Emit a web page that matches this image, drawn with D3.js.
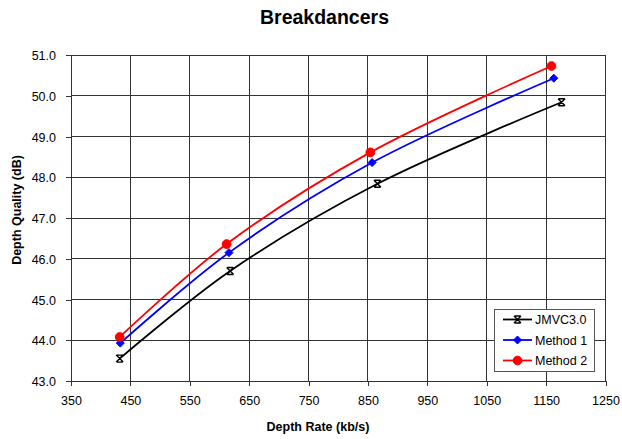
<!DOCTYPE html>
<html>
<head>
<meta charset="utf-8">
<script src="https://cdn.jsdelivr.net/npm/d3@7"></script>
<style>
  body { margin: 0; background: #fff; }
  text { font-family: "Liberation Sans", Arial, sans-serif; fill: #000; }
</style>
</head>
<body>
<svg id="chart" width="622" height="439"></svg>
<script>
const seriesNames = ["JMVC3.0", "Method 1", "Method 2"];
const rateJMVC = [432, 618, 866, 1176];
const qualJMVC = [43.55, 45.70, 47.84, 49.84];
const rateM1 = [433, 616, 857, 1163];
const qualM1 = [43.93, 46.15, 48.36, 50.43];
const rateM2 = [432, 612, 854, 1159];
const qualM2 = [44.08, 46.36, 48.61, 50.73];
const xTicks = [350, 450, 550, 650, 750, 850, 950, 1050, 1150, 1250];
const yTicks = [43, 44, 45, 46, 47, 48, 49, 50, 51];
const colors = ["#000000", "#0000ff", "#ff0000"];

const series = [
  { name: seriesNames[0], rate: rateJMVC, qual: qualJMVC, color: colors[0], marker: "x" },
  { name: seriesNames[1], rate: rateM1, qual: qualM1, color: colors[1], marker: "diamond" },
  { name: seriesNames[2], rate: rateM2, qual: qualM2, color: colors[2], marker: "circle" }
];

const svg = d3.select("#chart");
const L = 71, R = 605.5, T = 55, B = 381;
const x = d3.scaleLinear().domain([350, 1250]).range([L, R]);
const y = d3.scaleLinear().domain([43, 51]).range([B, T]);

// grid
const grid = svg.append("g").attr("stroke", "#333").attr("stroke-width", 1).attr("shape-rendering", "crispEdges");
grid.selectAll(".gx").data(xTicks).join("line")
  .attr("x1", d => x(d)).attr("x2", d => x(d)).attr("y1", T).attr("y2", B);
grid.selectAll(".gy").data(yTicks).join("line")
  .attr("x1", L).attr("x2", R).attr("y1", d => y(d)).attr("y2", d => y(d));

// axes
const xAxis = d3.axisBottom(x).tickValues(xTicks).tickFormat(d3.format("d")).tickSizeInner(5).tickSizeOuter(0).tickPadding(10);
const yAxis = d3.axisLeft(y).tickValues(yTicks).tickFormat(d3.format(".1f")).tickSizeInner(5).tickSizeOuter(0).tickPadding(10);
const gx = svg.append("g").attr("transform", `translate(0,${B})`).call(xAxis);
const gy = svg.append("g").attr("transform", `translate(${L},0)`).call(yAxis);
[gx, gy].forEach(g => {
  g.selectAll("path").attr("stroke", "#333").attr("shape-rendering", "crispEdges");
  g.selectAll("line").attr("stroke", "#333").attr("shape-rendering", "crispEdges");
  g.selectAll("text").attr("font-size", 12.5).attr("font-family", "Liberation Sans, Arial, sans-serif").attr("fill", "#111");
});
gy.selectAll("text").attr("dy", "0.36em");

// lines
const line = d3.line().curve(d3.curveCatmullRom.alpha(0.5));
function markerPath(type) {
  if (type === "diamond") return "M0,-4L4,0L0,4L-4,0Z";
  if (type === "circle") return d3.symbol(d3.symbolCircle, 60)();
  return "M-3.5,-3.5L3.5,3.5M3.5,-3.5L-3.5,3.5M-3,-3.5H3M-3,3.5H3";
}
series.forEach(s => {
  const pts = s.rate.map((r, i) => [x(r), y(s.qual[i])]);
  svg.append("path").attr("d", line(pts)).attr("fill", "none")
    .attr("stroke", s.color).attr("stroke-width", 1.8);
  svg.append("g").selectAll("path").data(pts).join("path")
    .attr("transform", d => `translate(${d[0]},${d[1]})`)
    .attr("d", markerPath(s.marker))
    .attr("fill", s.marker === "x" ? "none" : s.color)
    .attr("stroke", s.color).attr("stroke-width", s.marker === "x" ? 1.4 : 1);
});

// legend
const lg = svg.append("g");
lg.append("rect").attr("x", 494.5).attr("y", 309.5).attr("width", 100).attr("height", 62)
  .attr("fill", "#fff").attr("stroke", "#555").attr("stroke-width", 1);
series.forEach((s, i) => {
  const cy = 319.5 + i * 20.5;
  lg.append("line").attr("x1", 503).attr("x2", 532).attr("y1", cy).attr("y2", cy)
    .attr("stroke", s.color).attr("stroke-width", 1.8);
  lg.append("path").attr("transform", `translate(517.5,${cy})`).attr("d", markerPath(s.marker))
    .attr("fill", s.marker === "x" ? "none" : s.color)
    .attr("stroke", s.color).attr("stroke-width", s.marker === "x" ? 1.4 : 1);
  lg.append("text").attr("x", 535).attr("y", cy).attr("dy", "0.36em")
    .attr("font-size", 12.5).text(s.name);
});

// titles
svg.append("text").attr("x", 324.5).attr("y", 24).attr("text-anchor", "middle")
  .attr("font-size", 19.5).attr("font-weight", "bold").text("Breakdancers");
svg.append("text").attr("x", 318).attr("y", 431).attr("text-anchor", "middle")
  .attr("font-size", 12.5).attr("font-weight", "bold").text("Depth Rate (kb/s)");
svg.append("text").attr("transform", "translate(21,210) rotate(-90)").attr("text-anchor", "middle")
  .attr("font-size", 12.5).attr("font-weight", "bold").text("Depth Quality (dB)");
</script>
</body>
</html>
